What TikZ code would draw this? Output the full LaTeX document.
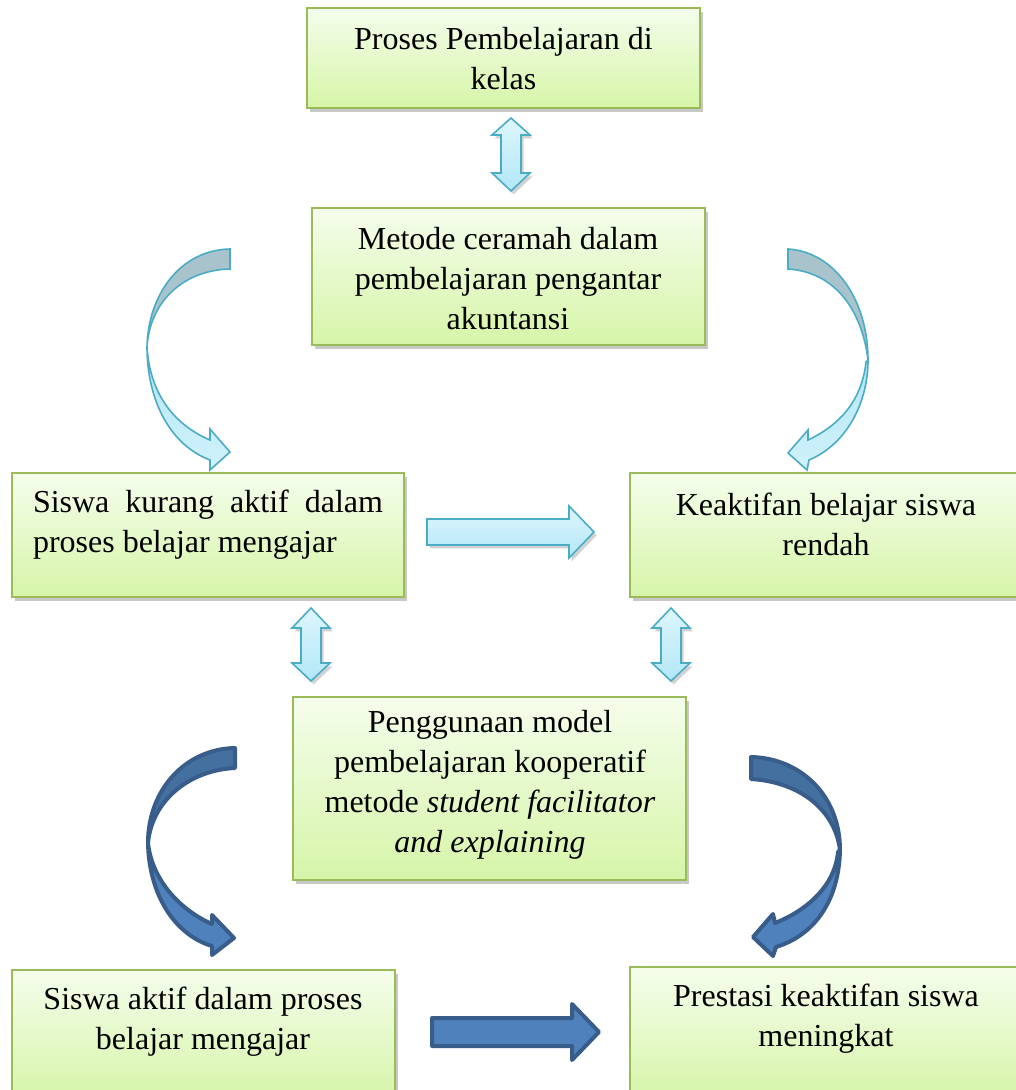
\documentclass[tikz,border=0pt]{standalone}
\usepackage{fontspec}
\setmainfont{Liberation Serif}
\usetikzlibrary{shadows}
\definecolor{bxborder}{HTML}{9BBB59}
\definecolor{bxtop}{HTML}{F5FDEC}
\definecolor{bxbot}{HTML}{D6F5A8}
\definecolor{lbtop}{HTML}{DDF6FC}
\definecolor{lbbot}{HTML}{B3E7F7}
\definecolor{lbdraw}{HTML}{4BACC6}
\definecolor{lbback}{HTML}{A8C3CB}
\definecolor{dbfill}{HTML}{4F81BD}
\definecolor{dbback}{HTML}{44709F}
\definecolor{dbdraw}{HTML}{385D8A}
\begin{document}
\begin{tikzpicture}[x=0.75pt,y=-0.75pt,
  bx/.style 2 args={draw=bxborder, line width=1.5pt, top color=bxtop, bottom color=bxbot,
    rectangle, minimum width=#1*0.75pt, minimum height=#2*0.75pt, inner sep=0pt,
    drop shadow={shadow xshift=2.5pt, shadow yshift=-3pt, opacity=0.3, fill=black!70}},
  lbl/.style={font=\fontsize{24}{30}\selectfont, align=center, inner sep=0pt},
  lightarrow/.style={draw=lbdraw, line width=1.2pt, top color=lbtop, bottom color=lbbot,
    line join=miter, drop shadow={shadow xshift=2pt, shadow yshift=-2.5pt, opacity=0.25, fill=black!70}},
  lightfront/.style={draw=lbdraw, line width=1.2pt, top color=lbbot, bottom color=lbtop!70!lbbot, line join=miter},
  lightback/.style={draw=lbdraw, line width=1.2pt, fill=lbback, line join=miter},
  darkfront/.style={draw=dbdraw, line width=3pt, fill=dbfill, line join=round},
  darkback/.style={draw=dbdraw, line width=3pt, fill=dbback, line join=round}]
\clip (0,0) rectangle (1016,1090);
\fill[white] (0,0) rectangle (1016,1090);

% boxes
\node[bx={393}{100}] (b1) at (503.5,58) {};
\node[bx={393}{137}] (b2) at (508.5,276.5) {};
\node[bx={392}{124}] (b3) at (208,535) {};
\node[bx={400}{124}] (b4) at (830,535) {};
\node[bx={393}{183}] (b5) at (489.5,788.5) {};
\node[bx={383}{130}] (b6) at (203.5,1035) {};
\node[bx={400}{133}] (b7) at (830,1033.5) {};

% texts
\node[lbl] (t1) at (503.5,59) {Proses Pembelajaran di\\kelas};
\node[lbl] (t2) at (508,279) {Metode ceramah dalam\\pembelajaran pengantar\\akuntansi};
\node[lbl, align=left] (t3) at (208,525)
  {\hbox to 262.5pt{Siswa\hfill kurang\hfill aktif\hfill dalam}\\proses belajar mengajar\hspace*{\fill}};
\node[lbl] (t4) at (826,524) {Keaktifan belajar siswa\\rendah};
\node[lbl] (t5) at (490,785) {Penggunaan model\\pembelajaran kooperatif\\metode \textit{student facilitator}\\\textit{and explaining}};
\node[lbl] (t6) at (203,1022) {Siswa aktif dalam proses\\belajar mengajar};
\node[lbl] (t7) at (826,1019) {Prestasi keaktifan siswa\\meningkat};

% vertical double arrows
\foreach \c/\ta/\ha/\hb/\tb in {511/118/135/173/191, 311/608/628/663/681, 671/608/628/663/681}{
  \draw[lightarrow] (\c,\ta) -- (\c+19,\ha) -- (\c+10,\ha) -- (\c+10,\hb) -- (\c+19,\hb)
    -- (\c,\tb) -- (\c-19,\hb) -- (\c-10,\hb) -- (\c-10,\ha) -- (\c-19,\ha) -- cycle;
}

% horizontal arrows
\draw[lightarrow] (427,519) -- (569,519) -- (569,506) -- (594,532) -- (569,558)
  -- (569,545) -- (427,545) -- cycle;
\draw[darkfront] (432,1018) -- (572,1018) -- (572,1004) -- (599,1032) -- (572,1060)
  -- (572,1046) -- (432,1046) -- cycle;

% curved arrows, light (top)
\draw[lightback] (230,249) .. controls (180,250) and (148,295) .. (147,347)
  .. controls (150,300) and (185,270) .. (230,269) -- cycle;
\draw[lightfront] (147,347) .. controls (147,400) and (170,445) .. (210,460)
  -- (210,470) -- (230,452) -- (210,429) -- (210,440)
  .. controls (175,425) and (150,395) .. (147,347) -- cycle;
\draw[lightback] (788,249) .. controls (835,252) and (868,300) .. (868,360)
  .. controls (862,310) and (835,272) .. (788,269) -- cycle;
\draw[lightfront] (868,360) .. controls (868,405) and (845,445) .. (809,460)
  -- (807,470) -- (788,453) -- (808,430) -- (808,440)
  .. controls (840,425) and (862,400) .. (866,362) -- cycle;

% curved arrows, dark (bottom)
\draw[darkback] (235,748) .. controls (185,749) and (148,790) .. (148,843)
  .. controls (152,800) and (190,770) .. (235,768) -- cycle;
\draw[darkfront] (148,843) .. controls (149,895) and (175,935) .. (212,946)
  -- (212,955) -- (234,938) -- (212,915) -- (212,924)
  .. controls (180,910) and (152,880) .. (148,843) -- cycle;
\draw[darkback] (751,757) .. controls (800,758) and (840,795) .. (840,850)
  .. controls (835,810) and (800,782) .. (751,779) -- cycle;
\draw[darkfront] (840,850) .. controls (839,900) and (815,935) .. (776,947)
  -- (773,956) -- (753,937) -- (773,914) -- (775,923)
  .. controls (808,910) and (835,885) .. (838,852) -- cycle;
\end{tikzpicture}
\end{document}
